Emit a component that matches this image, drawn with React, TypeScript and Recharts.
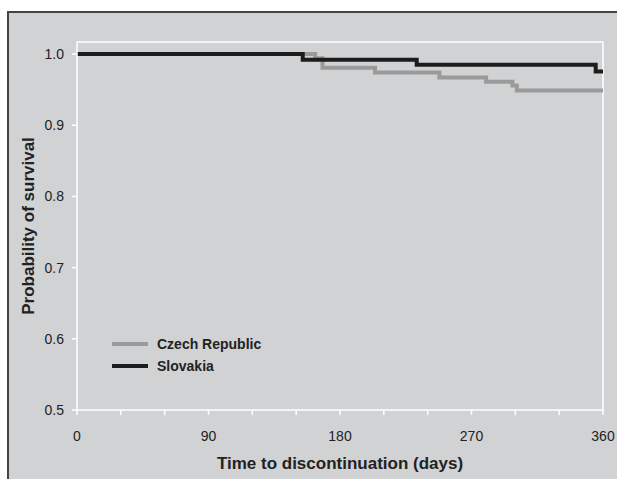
import React from 'react';
import { LineChart, Line, XAxis, YAxis, ReferenceLine, Legend } from 'recharts';

// Kaplan-Meier steps (days, survival probability)
const czechDays = [0, 163, 168, 204, 248, 280, 298, 301, 360];
const czechSurv = [1.0, 0.994, 0.981, 0.974, 0.967, 0.961, 0.956, 0.949, 0.949];
const slovakDays = [0, 154.5, 232.5, 355, 360];
const slovakSurv = [1.0, 0.992, 0.985, 0.9755, 0.9755];

const xTicks = [0, 30, 60, 90, 120, 150, 180, 210, 240, 270, 300, 330, 360];
const yTicks = [0.5, 0.6, 0.7, 0.8, 0.9, 1.0];
const Y_TOP = 1.017;

const FONT = '"Liberation Sans", Arial, Helvetica, sans-serif';
const TEXT = '#222';
const BG = '#d1d2d4';
const GREY_LINE = '#9a9a9a';
const BLACK_LINE = '#1c1c1c';

const czech = czechDays.map((t, i) => ({ t, s: czechSurv[i] }));
const slovak = slovakDays.map((t, i) => ({ t, s: slovakSurv[i] }));

const legendItems = [
  { name: 'Czech Republic', color: GREY_LINE },
  { name: 'Slovakia', color: BLACK_LINE },
];

const renderLegend = () => (
  <div style={{ fontFamily: FONT }}>
    {legendItems.map(item => (
      <div key={item.name} style={{ display: 'flex', alignItems: 'center', height: 22 }}>
        <svg width={36} height={6} style={{ marginRight: 9 }}>
          <line x1={0} x2={36} y1={3} y2={3} stroke={item.color} strokeWidth={4} />
        </svg>
        <span style={{ fontSize: 14, fontWeight: 'bold', color: TEXT }}>{item.name}</span>
      </div>
    ))}
  </div>
);

export default function App() {
  return (
    <div
      style={{
        position: 'fixed', left: 7, top: 11, width: 608, height: 466,
        background: BG, borderLeft: '2px solid #444', borderTop: '2px solid #444',
      }}
    >
      <LineChart width={608} height={466} margin={{ top: 29, right: 14, left: 28, bottom: 19 }}>
        <XAxis
          type="number"
          dataKey="t"
          domain={[0, 360]}
          ticks={xTicks}
          interval={0}
          allowDecimals={false}
          tickFormatter={(v: number) => (v % 90 === 0 ? String(v) : '')}
          tick={{ fill: TEXT, fontSize: 14, fontFamily: FONT }}
          tickLine={{ stroke: '#fff', strokeWidth: 1.5 }}
          tickSize={5}
          tickMargin={16}
          axisLine={{ stroke: '#fff', strokeWidth: 1.5 }}
          height={50}
          label={{
            content: (p: any) => (
              <text
                x={p.viewBox.x + p.viewBox.width / 2}
                y={p.viewBox.y + 53}
                textAnchor="middle"
                dominantBaseline="central"
                fill={TEXT}
                fontSize={17}
                fontWeight="bold"
                fontFamily={FONT}
              >
                Time to discontinuation (days)
              </text>
            ),
          }}
        />
        <YAxis
          type="number"
          domain={[0.5, Y_TOP]}
          ticks={yTicks}
          interval={0}
          allowDataOverflow
          tickFormatter={(v: number) => v.toFixed(1)}
          tick={{ fill: TEXT, fontSize: 14, fontFamily: FONT }}
          tickLine={{ stroke: '#fff', strokeWidth: 1.5 }}
          tickSize={5}
          tickMargin={8}
          axisLine={{ stroke: '#fff', strokeWidth: 1.5 }}
          width={40}
          label={{
            content: (p: any) => {
              const cx = p.viewBox.x - 9;
              const cy = p.viewBox.y + p.viewBox.height / 2;
              return (
                <text
                  x={cx}
                  y={cy}
                  transform={`rotate(-90 ${cx} ${cy})`}
                  textAnchor="middle"
                  dominantBaseline="central"
                  fill={TEXT}
                  fontSize={17}
                  fontWeight="bold"
                  fontFamily={FONT}
                >
                  Probability of survival
                </text>
              );
            },
          }}
        />
        <ReferenceLine y={Y_TOP} stroke="#fff" strokeWidth={1.5} />
        <ReferenceLine x={360} stroke="#fff" strokeWidth={1.5} />
        <Legend
          content={renderLegend}
          layout="horizontal"
          verticalAlign="middle"
          wrapperStyle={{ left: 103, top: 320, width: 'auto' }}
        />
        <Line
          data={czech}
          dataKey="s"
          name="Czech Republic"
          type="stepAfter"
          stroke={GREY_LINE}
          strokeWidth={4}
          dot={false}
          activeDot={false}
          isAnimationActive={false}
        />
        <Line
          data={slovak}
          dataKey="s"
          name="Slovakia"
          type="stepAfter"
          stroke={BLACK_LINE}
          strokeWidth={4}
          dot={false}
          activeDot={false}
          isAnimationActive={false}
        />
      </LineChart>
    </div>
  );
}
